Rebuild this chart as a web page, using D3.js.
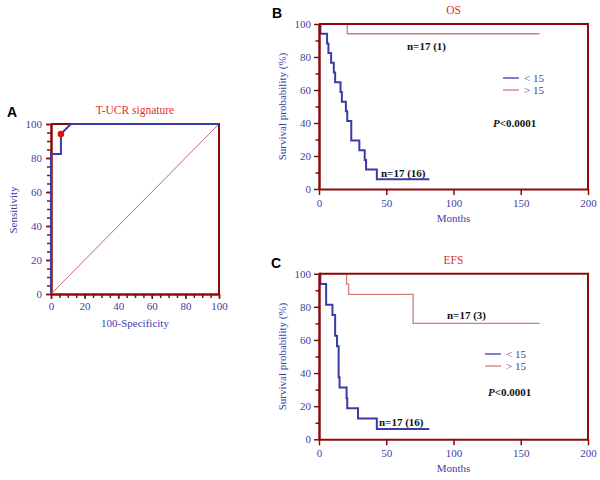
<!DOCTYPE html>
<html><head><meta charset="utf-8">
<script src="https://cdn.jsdelivr.net/npm/d3@7"></script>
<style>body{margin:0;background:#fff}svg{display:block}</style>
</head><body><svg id="c" width="600" height="480"></svg>
<script>
// ---- data ----
const rocFPR = [0, 0, 5.9, 5.9, 11.8, 100];
const rocTPR = [0, 82.4, 82.4, 94.1, 100, 100];
const rocCutoff = [5.9, 94.1];
const rocTicks = [0, 20, 40, 60, 80, 100];

const osLowMonths = [0, 1, 6, 7, 9, 11, 12, 16, 17, 20, 21, 24, 30, 34, 35, 43, 82];
const osLowSurv   = [100, 94.1, 88.2, 82.4, 76.5, 70.6, 64.7, 58.8, 52.9, 47.1, 41.2, 29.4, 23.5, 17.6, 11.8, 5.9, 5.9];
const osHighMonths = [0, 21, 164];
const osHighSurv   = [100, 94.1, 94.1];

const efsLowMonths = [0, 1, 5.3, 10, 12, 13.4, 14.6, 15.3, 20.5, 21, 29, 43, 82];
const efsLowSurv   = [100, 93.75, 81.25, 75, 62.5, 56.25, 37.5, 31.25, 25, 18.75, 12.5, 6.25, 6.25];
const efsHighMonths = [0, 20.5, 22, 70, 164];
const efsHighSurv   = [100, 93.75, 87.5, 70, 70];

const legendLabels = ["< 15", "> 15"];
const kmXTicks = [0, 50, 100, 150, 200];
const kmYTicks = [0, 20, 40, 60, 80, 100];

// ---- style ----
const AXC = "#8b0a0a", BLUE = "#3b3ba8", TXT = "#3e3ea6", PINK = "#d47c7c", TITLE = "#e2302e";
const SERIF = "'Liberation Serif','Times New Roman',serif";
const SANS = "'Liberation Sans',Arial,sans-serif";
const svg = d3.select("#c");

function styleAxis(g) {
  g.select(".domain").attr("stroke", AXC).attr("stroke-width", 2);
  g.selectAll(".tick line").attr("stroke", AXC).attr("stroke-width", 1.5);
  g.selectAll(".tick text").attr("fill", TXT).attr("font-family", SERIF).attr("font-size", 11);
}
function txt(x, y, s, o = {}) {
  const t = svg.append("text").attr("x", x).attr("y", y).text(s)
    .attr("font-family", o.ff || SERIF).attr("font-size", o.fs || 11)
    .attr("fill", o.fill || TXT).attr("text-anchor", o.anchor || "start");
  if (o.bold) t.attr("font-weight", "bold");
  if (o.rot) t.attr("transform", `rotate(-90,${x},${y})`);
  return t;
}

// ---- Panel A: ROC ----
const xA = d3.scaleLinear([0, 100], [51, 219]);
const yA = d3.scaleLinear([0, 100], [294, 124]);
// box
svg.append("path").attr("d", `M${xA(0)},${yA(100)}H${xA(100)}V${yA(0)}`)
  .attr("fill", "none").attr("stroke", AXC).attr("stroke-width", 2);
// minor ticks
svg.append("g").attr("transform", `translate(0,${yA(0)})`)
  .call(d3.axisBottom(xA).tickValues(d3.range(0, 101, 5)).tickSize(4).tickSizeOuter(0).tickFormat(""))
  .call(styleAxis);
svg.append("g").attr("transform", `translate(${xA(0)},0)`)
  .call(d3.axisLeft(yA).tickValues(d3.range(0, 101, 5)).tickSize(4).tickSizeOuter(0).tickFormat(""))
  .call(styleAxis);
// major ticks
svg.append("g").attr("transform", `translate(0,${yA(0)})`)
  .call(d3.axisBottom(xA).tickValues(rocTicks).tickSize(5).tickPadding(3.5).tickSizeOuter(0))
  .call(styleAxis);
svg.append("g").attr("transform", `translate(${xA(0)},0)`)
  .call(d3.axisLeft(yA).tickValues(rocTicks).tickSize(5).tickPadding(4).tickSizeOuter(0))
  .call(styleAxis);
// diagonal reference
svg.append("line").attr("x1", xA(0)).attr("y1", yA(0)).attr("x2", xA(100)).attr("y2", yA(100))
  .attr("stroke", "#c06a6a").attr("stroke-width", 1);
// ROC curve
const rocPts = rocFPR.map((v, i) => [v, rocTPR[i]]);
svg.append("path").datum(rocPts)
  .attr("d", d3.line().x(d => xA(d[0])).y(d => yA(d[1])))
  .attr("fill", "none").attr("stroke", BLUE).attr("stroke-width", 2);
svg.append("circle").attr("cx", xA(rocCutoff[0])).attr("cy", yA(rocCutoff[1])).attr("r", 3.3).attr("fill", "#dd1111");
txt(135, 114, "T-UCR signature", { anchor: "middle", fill: TITLE, fs: 11.5 });
txt(7, 117, "A", { ff: SANS, bold: true, fill: "#000", fs: 14 });
txt(135, 327, "100-Specificity", { anchor: "middle" });
txt(17, 210, "Sensitivity", { anchor: "middle", rot: true });

// ---- KM panels ----
function kmPanel(cfg) {
  const x = d3.scaleLinear([0, 200], [319, 588]);
  const y = d3.scaleLinear([0, 100], [cfg.y0, cfg.y100]);
  const line = d3.line().x(d => x(d[0])).y(d => y(d[1])).curve(d3.curveStepAfter);
  const hi = cfg.hiM.map((m, i) => [m, cfg.hiS[i]]);
  const lo = cfg.loM.map((m, i) => [m, cfg.loS[i]]);
  svg.append("path").datum(hi).attr("d", line).attr("fill", "none").attr("stroke", PINK).attr("stroke-width", 1.3);
  svg.append("path").datum(lo).attr("d", line).attr("fill", "none").attr("stroke", BLUE).attr("stroke-width", 2);
  // box top/right
  svg.append("path").attr("d", `M${x(0)},${y(100)}H${x(200)}V${y(0)}`)
    .attr("fill", "none").attr("stroke", AXC).attr("stroke-width", 2);
  svg.append("g").attr("transform", `translate(${x(0)},0)`)
    .call(d3.axisLeft(y).tickValues(d3.range(10, 100, 20)).tickSize(3.5).tickSizeOuter(0).tickFormat(""))
    .call(styleAxis);
  svg.append("g").attr("transform", `translate(${x(0)},0)`)
    .call(d3.axisLeft(y).tickValues(kmYTicks).tickSize(5).tickPadding(3).tickSizeOuter(0))
    .call(styleAxis);
  svg.append("g").attr("transform", `translate(0,${y(0)})`)
    .call(d3.axisBottom(x).tickValues(kmXTicks).tickSize(6).tickPadding(4).tickSizeOuter(0))
    .call(styleAxis);
  // texts
  txt(453.5, y(100) - 10, cfg.title, { anchor: "middle", fill: TITLE, fs: 11.5 });
  txt(cfg.letterX, y(100) - 6, cfg.letter, { ff: SANS, bold: true, fill: "#000", fs: 14 });
  txt(453.5, y(0) + 33, "Months", { anchor: "middle" });
  txt(286, (y(0) + y(100)) / 2, "Survival probability (%)", { anchor: "middle", rot: true });
  // legend
  [BLUE, PINK].forEach((c, i) => {
    const ly = cfg.legY + i * 12;
    svg.append("line").attr("x1", cfg.legX).attr("x2", cfg.legX + 16).attr("y1", ly).attr("y2", ly)
      .attr("stroke", c).attr("stroke-width", 1.3);
    txt(cfg.legX + 21, ly + 4, legendLabels[i], { fs: 11 });
  });
  // annotations
  txt(cfg.nHi[0], cfg.nHi[1], cfg.nHiText, { bold: true, fill: "#111" });
  txt(cfg.nLo[0], cfg.nLo[1], cfg.nLoText, { bold: true, fill: "#111" });
  const p = txt(cfg.pPos[0], cfg.pPos[1], "", { bold: true, fill: "#111" });
  p.append("tspan").attr("font-style", "italic").text("P");
  p.append("tspan").text("<0.0001");
}

kmPanel({
  y0: 189, y100: 24, title: "OS", letter: "B", letterX: 272,
  hiM: osHighMonths, hiS: osHighSurv, loM: osLowMonths, loS: osLowSurv,
  legX: 503, legY: 78,
  nHi: [407, 50], nHiText: "n=17 (1)", nLo: [381, 176.5], nLoText: "n=17 (16)",
  pPos: [493, 127]
});
kmPanel({
  y0: 439.3, y100: 273.7, title: "EFS", letter: "C", letterX: 271,
  hiM: efsHighMonths, hiS: efsHighSurv, loM: efsLowMonths, loS: efsLowSurv,
  legX: 485, legY: 354,
  nHi: [447, 319], nHiText: "n=17 (3)", nLo: [379, 426], nLoText: "n=17 (16)",
  pPos: [488, 396]
});
</script></body></html>
